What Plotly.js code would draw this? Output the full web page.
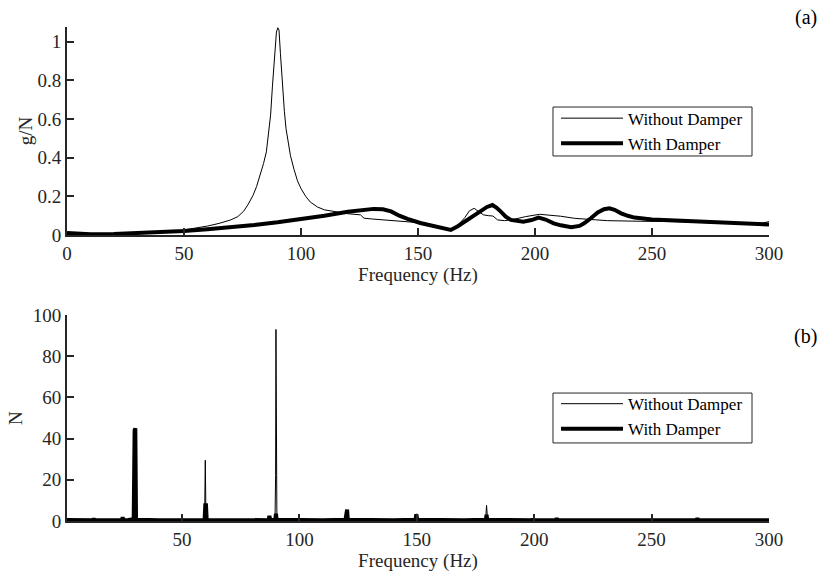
<!DOCTYPE html>
<html>
<head>
<meta charset="utf-8">
<script src="https://cdn.plot.ly/plotly-3.0.1.min.js"></script>
<style>html,body{margin:0;padding:0;background:#fff;}#chart{width:822px;height:575px;}</style>
</head>
<body>
<div id="chart"></div>
<script>
// ---------- (a) frequency response g/N ----------
const freqWithoutA = [0,5,10,20,30,40,50,55,60,65,70,73,75.5,77.5,79.5,81,82.5,84,85.2,86.2,87,87.8,88.7,89.5,90.1,90.6,91.2,92.1,92.9,93.6,94.5,95.5,97,98.5,100,102,104,107,110,115,120,125.4,126.9,130,140,150,157,164,167,170,172,174,176,178,180,182,184,187,191,196,202,206,211,217,225,231,245,260,275,288,296,300];
const gWithoutA    = [0.009,0.005,0.003,0.004,0.008,0.014,0.026,0.035,0.046,0.06,0.078,0.095,0.123,0.16,0.205,0.25,0.305,0.37,0.43,0.52,0.62,0.77,0.94,1.05,1.072,1.06,0.94,0.77,0.64,0.55,0.47,0.41,0.34,0.28,0.24,0.2,0.17,0.145,0.13,0.12,0.11,0.104,0.087,0.083,0.074,0.064,0.05,0.026,0.05,0.09,0.125,0.138,0.12,0.104,0.1,0.098,0.078,0.074,0.081,0.095,0.107,0.104,0.097,0.086,0.078,0.074,0.071,0.069,0.063,0.06,0.058,0.069];

const freqWithA = [0,5,10,20,30,40,50,60,70,80,90,100,110,120,126,131,135,138.5,142,145.5,151,157,161,164,167,171,174,176.7,179.5,181.8,183.5,185.4,187.5,189.7,195,198.5,201.5,204.5,208,211,215.5,219,221,224,226.8,229.5,231.8,234,236.8,240,242.5,250,260,270,281,290,300];
const gWithA    = [0.01,0.006,0.004,0.005,0.009,0.015,0.021,0.03,0.04,0.052,0.066,0.082,0.1,0.12,0.128,0.135,0.133,0.122,0.1,0.083,0.062,0.047,0.038,0.026,0.045,0.078,0.1,0.121,0.145,0.155,0.142,0.121,0.095,0.078,0.069,0.077,0.09,0.08,0.06,0.05,0.04,0.047,0.06,0.088,0.116,0.133,0.138,0.13,0.112,0.098,0.09,0.08,0.074,0.07,0.064,0.06,0.054];

// ---------- (b) force spectrum N ----------
const freqWithoutB = [1,10,12.1,12.4,12.7,20,24.4,24.7,25,29.7,30,30.3,40,50,59.6,59.9,60.2,70,80,86.9,87.2,87.5,89.6,89.85,90,90.15,90.4,100,110,119.6,120,120.4,130,140,149.5,150,150.5,160,170,179.3,179.7,180.1,180.5,190,199.7,200,200.3,209.7,210,210.3,220,230,240,250,260,269.2,269.5,269.8,280,290,300];
const nWithoutB    = [0.4,0.3,0.3,0.6,0.3,0.3,0.3,0.8,0.3,0.5,44,0.5,0.3,0.3,0.4,29.5,0.4,0.3,0.3,0.3,0.6,0.3,0.5,22,93,6,0.5,0.3,0.3,0.5,5,0.5,0.3,0.3,0.5,3.5,0.4,0.3,0.3,0.6,7.6,1,0.4,0.3,0.3,0.5,0.3,0.3,0.6,0.3,0.3,0.3,0.3,0.3,0.3,0.3,0.8,0.3,0.3,0.3,0.3];

const freqWithB = [1,8,12.1,12.4,12.7,16,24.4,24.7,25,27,29.4,29.8,30.1,30.4,31,40,50,59.6,59.9,60.2,60.5,70,80,86.9,87.2,87.6,89.7,90,90.3,100,110,119.6,119.9,120.3,120.6,130,140,149.4,149.8,150.2,160,170,179.4,179.7,180,190,199,199.3,199.6,209.3,209.6,209.9,220,230,240,250,260,269.2,269.5,269.8,280,290,300];
const nWithB    = [0.5,0.4,0.4,1.2,0.4,0.4,0.4,1.8,0.4,0.5,0.8,44,45,1.0,0.6,0.4,0.4,0.5,7.6,7.6,0.5,0.4,0.4,0.4,2.5,0.5,0.6,3.5,0.6,0.4,0.4,0.6,5.5,5.5,0.6,0.4,0.4,0.6,3.2,0.6,0.4,0.4,0.6,3,0.6,0.4,0.4,1,0.4,0.4,1.4,0.4,0.4,0.4,0.4,0.4,0.4,0.4,1.3,0.4,0.4,0.4,0.4];

const seriesNames = ['Without Damper', 'With Damper'];
const xTicksA = [0,50,100,150,200,250,300];
const xTicksB = [50,100,150,200,250,300];
const yTicksA = [0,0.2,0.4,0.6,0.8,1];
const yTickTextA = ['0','0.2','0.4','0.6','0.8','1'];
const yTicksB = [0,20,40,60,80,100];

const FONT = '"Liberation Serif", "Times New Roman", serif';
const AX = '#262626';

const traces = [
  {x: freqWithoutA, y: gWithoutA, xaxis:'x', yaxis:'y', mode:'lines', name: seriesNames[0], legend:'legend', line:{color:'#000', width:1}},
  {x: freqWithA, y: gWithA, xaxis:'x', yaxis:'y', mode:'lines', name: seriesNames[1], legend:'legend', line:{color:'#000', width:4}},
  {x: freqWithoutB, y: nWithoutB, xaxis:'x2', yaxis:'y2', mode:'lines', name: seriesNames[0], legend:'legend2', line:{color:'#000', width:1}},
  {x: freqWithB, y: nWithB, xaxis:'x2', yaxis:'y2', mode:'lines', name: seriesNames[1], legend:'legend2', line:{color:'#000', width:4}}
];

function xAxis(range, ticks, anchor, standoff) {
  return {domain:[0,1], anchor: anchor, range: range, tickmode:'array', tickvals: ticks,
    ticks:'inside', ticklen:7, tickwidth:2, tickcolor:AX, showline:true, linecolor:AX, linewidth:2,
    showgrid:false, zeroline:false, tickfont:{family:FONT, size:19, color:AX},
    title:{text:'Frequency (Hz)', font:{family:FONT, size:19, color:AX}, standoff: standoff}};
}
function yAxis(domain, range, ticks, text, anchor, title, standoff) {
  const a = {domain: domain, anchor: anchor, range: range, tickmode:'array', tickvals: ticks,
    ticks:'inside', ticklen:7, tickwidth:2, tickcolor:AX, showline:true, linecolor:AX, linewidth:2,
    showgrid:false, zeroline:false, tickfont:{family:FONT, size:19, color:AX},
    title:{text:title, font:{family:FONT, size:19, color:AX}, standoff: standoff}};
  if (text) a.ticktext = text;
  return a;
}
const legendBase = {xanchor:'left', yanchor:'top', bgcolor:'rgba(0,0,0,0)', borderwidth:0,
  font:{family:FONT, size:17, color:'#000'}, itemwidth:62, tracegroupgap:0};

function legendFrame(y0, y1) {
  return {type:'rect', xref:'paper', yref:'paper', x0:0.6923, x1:0.9758, y0:y0, y1:y1,
    line:{color:AX, width:1}, fillcolor:'#fff', layer:'below'};
}

const layout = {
  width:822, height:575, paper_bgcolor:'#fff', plot_bgcolor:'#fff',
  margin:{l:67, r:53, t:27, b:54},
  showlegend:true,
  xaxis: xAxis([0,300], xTicksA, 'y', 4),
  yaxis: yAxis([0.579,1], [0,1.076], yTicksA, yTickTextA, 'x', 'g/N', 0),
  xaxis2: xAxis([1,300], xTicksB, 'y2', 4),
  yaxis2: yAxis([0,0.417], [0,100], yTicksB, null, 'x2', 'N', 5),
  legend: Object.assign({x:0.6966, y:0.851}, legendBase),
  legend2: Object.assign({x:0.6966, y:0.273}, legendBase),
  shapes:[legendFrame(0.7389, 0.838), legendFrame(0.158, 0.259)],
  annotations:[
    {text:'(a)', xref:'paper', yref:'paper', x:1.0527, y:1.019, xanchor:'center', yanchor:'middle', showarrow:false, font:{family:FONT, size:20, color:'#000'}},
    {text:'(b)', xref:'paper', yref:'paper', x:1.0527, y:0.3725, xanchor:'center', yanchor:'middle', showarrow:false, font:{family:FONT, size:20, color:'#000'}}
  ]
};

Plotly.newPlot('chart', traces, layout, {displayModeBar:false, staticPlot:true});
</script>
</body>
</html>
